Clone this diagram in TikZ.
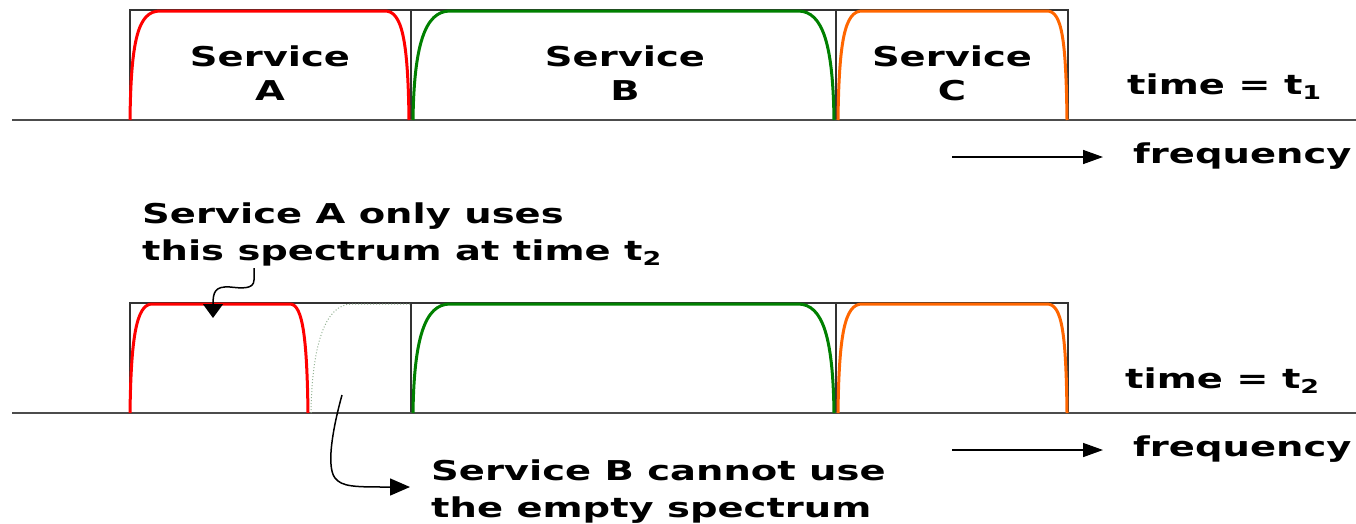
\documentclass[tikz,border=0pt]{standalone}
\usepackage{fontspec}
\setmainfont{DejaVu Sans}[FakeStretch=1.41]
\usetikzlibrary{arrows.meta}
\definecolor{svcred}{RGB}{255,0,0}
\definecolor{svcgreen}{RGB}{0,128,0}
\definecolor{svcorange}{RGB}{255,102,0}
\begin{document}
\begin{tikzpicture}[x=1pt,y=-1pt,
    lbl/.style={font=\fontsize{27.3}{36}\selectfont\bfseries,inner sep=0pt},
    band/.style={line width=3pt},
    axis/.style={draw=black!70,line width=2pt},
    frame/.style={draw=black!80,line width=1.2pt},
    tip/.style={-{Triangle[length=20pt,width=14pt]},line width=1.5pt}]
  \useasboundingbox (0,0) rectangle (1356,523);
  % frames, axes and the bands that are the same at t1 and t2
  \foreach \y in {0,293} {
    \draw[frame] (130,120+\y) -- (130,10+\y) -- (1068,10+\y) -- (1068,120+\y);
    \draw[frame] (411,10+\y) -- (411,120+\y) (836,10+\y) -- (836,120+\y);
    \draw[axis] (12,120+\y) -- (1356,120+\y);
    \draw[band,svcgreen] (413,120+\y) .. controls (414,45+\y) and (425,11+\y) .. (450,11+\y)
      -- (798,11+\y) .. controls (823,11+\y) and (833,45+\y) .. (834,120+\y);
    \draw[band,svcorange] (838,120+\y) .. controls (839,40+\y) and (845,11+\y) .. (862,11+\y)
      -- (1047,11+\y) .. controls (1062,11+\y) and (1066,40+\y) .. (1067,120+\y);
  }
  % service A
  \draw[band,svcred] (130,120) .. controls (131,40) and (138,11) .. (160,11)
    -- (385,11) .. controls (402,11) and (408,40) .. (409,120);
  \draw[band,svcred] (130,413) .. controls (131,340) and (136,304) .. (152,304)
    -- (290,304) .. controls (303,304) and (307,340) .. (308,413);
  \draw[dotted,line width=1pt,svcgreen!40!gray!60] (311,413) .. controls (312,345) and (325,304) .. (352,304) -- (411,304);
  % labels
  \node[lbl,align=center,anchor=base,font=\fontsize{27.3}{34}\selectfont\bfseries] (svcA) at (270,100) {Service\\A};
  \node[lbl,align=center,anchor=base,font=\fontsize{27.3}{34}\selectfont\bfseries] (svcB) at (625,100) {Service\\B};
  \node[lbl,align=center,anchor=base,font=\fontsize{27.3}{34}\selectfont\bfseries] (svcC) at (952,100) {Service\\C};
  \node[lbl,anchor=base west] (time1) at (1127,94) {time = t\textsubscript{1}};
  \node[lbl,anchor=base west] (freq1) at (1133,163) {frequency};
  \node[lbl,anchor=base west] (time2) at (1125,388) {time = t\textsubscript{2}};
  \node[lbl,anchor=base west] (freq2) at (1133,456) {frequency};
  \node[lbl,align=left,anchor=base west,font=\fontsize{27.3}{37}\selectfont\bfseries] (noteA) at (142,260) {Service A only uses\\this spectrum at time t\textsubscript{2}};
  \node[lbl,align=left,anchor=base west,font=\fontsize{27.3}{37}\selectfont\bfseries] (noteB) at (431,517) {Service B cannot use\\the empty spectrum};
  % arrows
  \coordinate (f1) at (952,157);
  \coordinate (f2) at (952,450);
  \draw[tip] (f1) -- ([xshift=-30pt]f1 -| freq1.west);
  \draw[tip] (f2) -- ([xshift=-30pt]f2 -| freq2.west);
  \coordinate (aS) at (254,268);
  \coordinate (aE) at (213,318);
  \draw[-{Triangle[length=14pt,width=20pt]},line width=1.5pt] (aS) -- (254,280)
    .. controls (254,290) and (240,288) .. (230,287) .. controls (215,286) and (213,292) .. (aE);
  \coordinate (bS) at (342,395);
  \coordinate (bE) at (410,487);
  \draw[-{Triangle[length=20pt,width=17pt]},line width=1.5pt] (bS)
    .. controls (335,420) and (325,465) .. (335,478) .. controls (342,487) and (355,487) .. (bE);
\end{tikzpicture}
\end{document}
